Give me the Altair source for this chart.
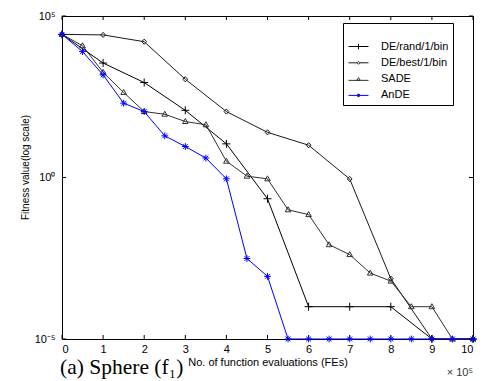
import altair as alt
import pandas as pd

# ---------------- data ----------------
series_names = ["DE/rand/1/bin", "DE/best/1/bin", "SADE", "AnDE"]

x_int = [0, 1, 2, 3, 4, 5, 6, 7, 8, 9, 10]
x_half = [0, 0.5, 1, 1.5, 2, 2.5, 3, 3.5, 4, 4.5, 5,
          5.5, 6, 6.5, 7, 7.5, 8, 8.5, 9, 9.5, 10]

de_rand = [2.7e4, 3.5e3, 8.7e2, 1.2e2, 11, 0.22, 1e-4, 1e-4, 1e-4, 1e-5, 1e-5]
de_best = [2.7e4, 2.6e4, 1.6e4, 1.1e3, 1.1e2, 25, 10, 0.9, 7.4e-4, 1e-5, 1e-5]
sade = [2.7e4, 1.2e4, 1.8e3, 4.3e2, 1.1e2, 91, 54, 43, 3.2, 1.1, 0.91,
        0.1, 0.071, 8.3e-3, 4.1e-3, 1.1e-3, 6.2e-4, 1e-4, 1e-4, 1e-5, 1e-5]
ande = [2.7e4, 7.9e3, 1.5e3, 2.0e2, 1.1e2, 19.5, 9.1, 4.0, 0.91, 3.1e-3, 8.7e-4,
        1e-5, 1e-5, 1e-5, 1e-5, 1e-5, 1e-5, 1e-5, 1e-5, 1e-5, 1e-5]

x_ticks = [0, 1, 2, 3, 4, 5, 6, 7, 8, 9, 10]
y_ticks = [1e-5, 1, 1e5]

# ---------------- build table ----------------
rows = []
for xs, ys, name in [(x_int, de_rand, series_names[0]),
                     (x_int, de_best, series_names[1]),
                     (x_half, sade, series_names[2]),
                     (x_half, ande, series_names[3])]:
    for i, (xv, yv) in enumerate(zip(xs, ys)):
        rows.append({"fes": xv, "fit": yv, "series": name, "order": i})
df = pd.DataFrame(rows)

W, H = 411, 323
FONT = "Liberation Sans"

colors = ["#000000", "#1a1a1a", "#303030", "#0000ff"]
marker_paths = [
    "M-1,0H1M0,-1V1",
    "M0,-0.65L0.6,0L0,0.65L-0.6,0Z",
    "M0,-0.75L0.7,0.5L-0.7,0.5Z",
    "M-0.85,0H0.85M0,-0.85V0.85M-0.6,-0.6L0.6,0.6M-0.6,0.6L0.6,-0.6",
]
legend_paths = [
    "M-2,0H2M0,-0.55V0.55",
    "M-2,0H-0.3M0.3,0H2M0,-0.3L0.3,0L0,0.3L-0.3,0Z",
    "M-2,0.25H2M0,-0.3L0.35,0.25L-0.35,0.25Z",
    "M-2,0H2M0,-0.35V0.35M-0.3,-0.2L0.3,0.2M-0.3,0.2L0.3,-0.2",
]

xenc = alt.X("fes:Q", scale=alt.Scale(domain=[0, 10], nice=False, zero=False),
             axis=alt.Axis(values=x_ticks, ticks=False, domain=False, grid=False,
                           labelFont=FONT, labelFontSize=11, labelColor="black",
                           labelPadding=4, labelAngle=0,
                           title="No. of function evaluations (FEs)",
                           titleFont=FONT, titleFontSize=11, titleFontWeight="normal",
                           titleColor="black", titlePadding=2))
yenc = alt.Y("fit:Q", scale=alt.Scale(type="log", domain=[1e-5, 1e5], nice=False),
             axis=alt.Axis(values=y_ticks, ticks=False, domain=False, grid=False,
                           labelFont=FONT, labelFontSize=11, labelColor="black",
                           labelPadding=7,
                           labelExpr="datum.value > 10 ? '10\u2075' : (datum.value > 1e-3 ? '10\u2070' : '10\u207b\u2075')",
                           title="Fitness value(log scale)",
                           titleFont=FONT, titleFontSize=10, titleFontWeight="normal",
                           titleColor="black", titleX=-37, titleY=151,
                           titleAngle=270, titleAlign="center", titleBaseline="middle"))

color_scale = alt.Scale(domain=series_names, range=colors)

base = alt.Chart(df)

lines = base.mark_line(strokeWidth=1, clip=False).encode(
    x=xenc, y=yenc,
    color=alt.Color("series:N", scale=color_scale, legend=None),
    order="order:Q",
)

points = base.mark_point(filled=False, size=64, strokeWidth=1, opacity=1).encode(
    x=xenc, y=yenc,
    color=alt.Color("series:N", scale=color_scale, legend=None),
    shape=alt.Shape("series:N", scale=alt.Scale(domain=series_names, range=marker_paths), legend=None),
)

leg = alt.Legend(
    title=" ", orient="none", legendX=281, legendY=7,
    strokeColor="black", fillColor="white", padding=4, cornerRadius=0,
    titleFontSize=11, titlePadding=3, titleFont=FONT,
    labelFont=FONT, labelFontSize=11, labelColor="black",
    labelExpr="datum.label + '         '",
    symbolSize=100, symbolStrokeWidth=1, symbolOffset=6, labelOffset=17,
    rowPadding=4.3, symbolType="circle",
)
legend_layer = base.mark_point(filled=False, opacity=0, strokeWidth=1).encode(
    x=xenc, y=yenc,
    color=alt.Color("series:N", scale=color_scale, legend=leg, sort=series_names),
    shape=alt.Shape("series:N", scale=alt.Scale(domain=series_names, range=legend_paths),
                    legend=leg, sort=series_names),
)

# inward tick marks on all four sides
xt = pd.DataFrame({"fes": x_ticks})
yt = pd.DataFrame({"fit": y_ticks})
xs_only = alt.X("fes:Q", scale=alt.Scale(domain=[0, 10], nice=False, zero=False))
ys_only = alt.Y("fit:Q", scale=alt.Scale(type="log", domain=[1e-5, 1e5], nice=False))
tick_bottom = alt.Chart(xt).mark_rule(color="black", strokeWidth=1).encode(
    x=xs_only, y=alt.value(H), y2=alt.value(H - 4))
tick_top = alt.Chart(xt).mark_rule(color="black", strokeWidth=1).encode(
    x=xs_only, y=alt.value(0), y2=alt.value(4))
tick_left = alt.Chart(yt).mark_rule(color="black", strokeWidth=1).encode(
    y=ys_only, x=alt.value(0), x2=alt.value(4))
tick_right = alt.Chart(yt).mark_rule(color="black", strokeWidth=1).encode(
    y=ys_only, x=alt.value(W), x2=alt.value(W - 4))

caption = alt.Chart(pd.DataFrame({"t": ["(a) Sphere (f\u2081)"]})).mark_text(
    font="Liberation Serif", fontSize=21.5, align="left", baseline="alphabetic", color="black"
).encode(text="t:N", x=alt.value(-2), y=alt.value(H + 35))

exponent = alt.Chart(pd.DataFrame({"t": ["\u00d7 10\u2075"]})).mark_text(
    font=FONT, fontSize=11, align="right", baseline="middle", color="#333333"
).encode(text="t:N", x=alt.value(W), y=alt.value(H + 34))

chart = alt.layer(
    tick_bottom, tick_top, tick_left, tick_right,
    lines, points, legend_layer, caption, exponent
).resolve_scale(
    color="independent", shape="independent"
).properties(
    width=W, height=H,
    autosize=alt.AutoSizeParams(type="none"),
    padding={"left": 62, "top": 16, "right": 10, "bottom": 42},
    background="white",
).configure_view(
    stroke="black", strokeWidth=1
)

chart.save("out.html", embed_options={"renderer": "svg", "actions": False})
